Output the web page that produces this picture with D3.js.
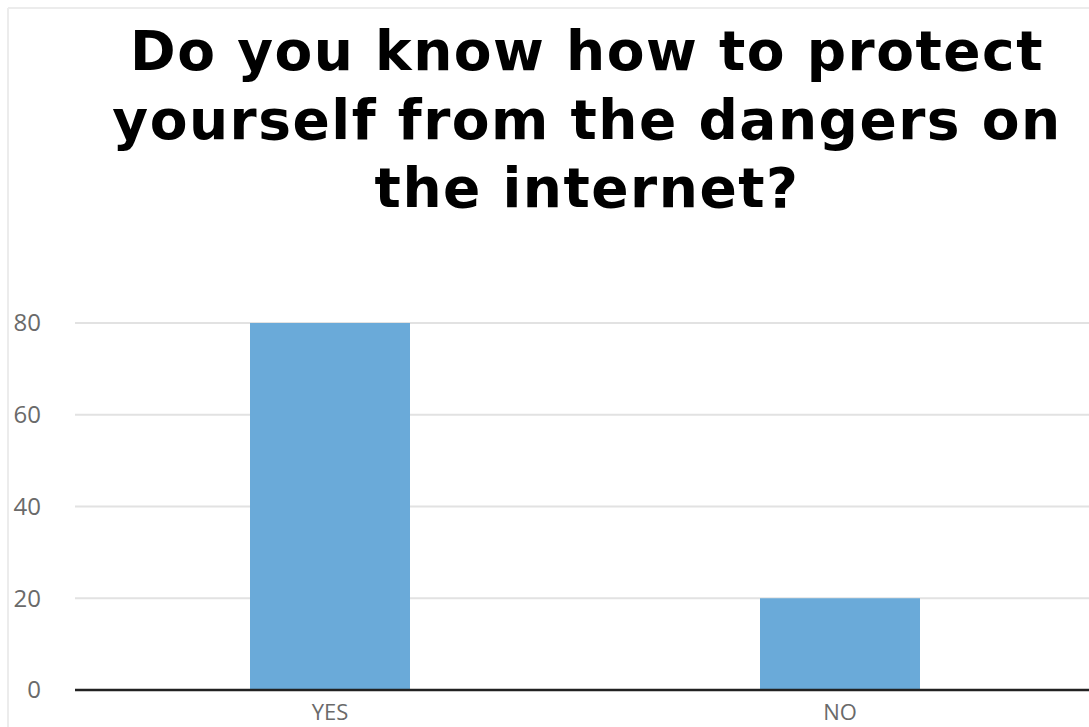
<!DOCTYPE html>
<html>
<head>
<meta charset="utf-8">
<script src="https://cdn.jsdelivr.net/npm/d3@7"></script>
<style>
  body { margin: 0; background: #fff; }
  svg { display: block; }
</style>
</head>
<body>
<svg></svg>
<script>
const categories = ["YES", "NO"];
const values = [80, 20];
const yTicks = [0, 20, 40, 60, 80];
const titleLines = ["Do you know how to protect", "yourself from the dangers on", "the internet?"];

const width = 1089;
const height = 727;

const svg = d3.select("svg")
    .attr("width", width)
    .attr("height", height);

// light frame around chart area
svg.append("line")
    .attr("x1", 8).attr("x2", width).attr("y1", 8).attr("y2", 8)
    .attr("stroke", "#ececec").attr("stroke-width", 2);
svg.append("line")
    .attr("x1", 8).attr("x2", 8).attr("y1", 8).attr("y2", height)
    .attr("stroke", "#ececec").attr("stroke-width", 2);

// title
svg.append("g").selectAll("text")
    .data(titleLines)
    .enter().append("text")
    .attr("x", 587)
    .attr("y", (d, i) => 70 + i * 68.5)
    .attr("text-anchor", "middle")
    .attr("font-family", "'DejaVu Sans', Verdana, sans-serif")
    .attr("font-weight", "bold")
    .attr("font-size", 55)
    .attr("letter-spacing", 1.5)
    .attr("fill", "#000")
    .text(d => d);

const x = d3.scaleBand()
    .domain(categories)
    .range([75, 1095]);

const y = d3.scaleLinear()
    .domain([0, 80])
    .range([690, 323]);

// gridlines
svg.append("g").selectAll("line")
    .data(yTicks.filter(t => t > 0))
    .enter().append("line")
    .attr("x1", 75).attr("x2", width)
    .attr("y1", d => y(d)).attr("y2", d => y(d))
    .attr("stroke", "#e2e2e2").attr("stroke-width", 2);

// y tick labels
svg.append("g").selectAll("text")
    .data(yTicks)
    .enter().append("text")
    .attr("x", 41)
    .attr("y", d => y(d))
    .attr("dy", "0.35em")
    .attr("text-anchor", "end")
    .attr("font-family", "'Open Sans', sans-serif")
    .attr("font-size", 24)
    .attr("fill", "#6a6a6a")
    .text(d => d);

// bars
const barW = 160;
svg.append("g").selectAll("rect")
    .data(values)
    .enter().append("rect")
    .attr("x", (d, i) => x(categories[i]) + x.bandwidth() / 2 - barW / 2)
    .attr("y", d => y(d))
    .attr("width", barW)
    .attr("height", d => y(0) - y(d))
    .attr("fill", "#6aaad9");

// baseline
svg.append("line")
    .attr("x1", 75).attr("x2", width)
    .attr("y1", y(0)).attr("y2", y(0))
    .attr("stroke", "#222").attr("stroke-width", 2.5);

// category labels
svg.append("g").selectAll("text")
    .data(categories)
    .enter().append("text")
    .attr("x", d => x(d) + x.bandwidth() / 2)
    .attr("y", 720)
    .attr("text-anchor", "middle")
    .attr("font-family", "'Open Sans', sans-serif")
    .attr("font-size", 22)
    .attr("fill", "#6a6a6a")
    .text(d => d);
</script>
</body>
</html>
